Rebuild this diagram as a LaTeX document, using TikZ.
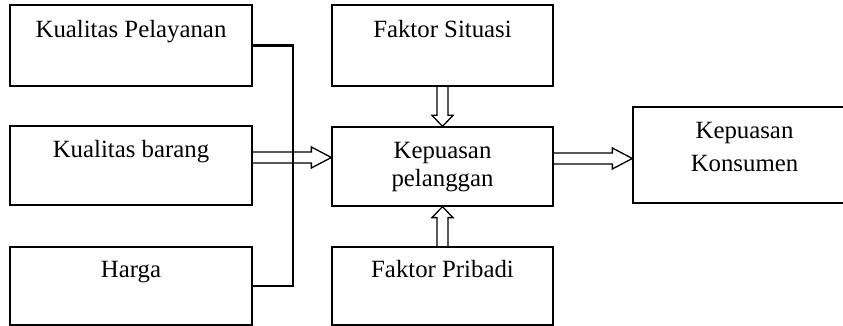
\documentclass[tikz,border=0pt]{standalone}
\usepackage{fontspec}
\setmainfont{Liberation Serif}
\usetikzlibrary{calc}

\tikzset{
  box/.style={draw,line width=1.3pt,inner sep=0pt,align=center,
    font=\fontsize{24.8}{28}\selectfont},
  bracket/.style={line width=2.4pt,line join=miter},
  hollow/.style={line width=1.3pt,line join=miter,to path={
    let \p1=($(\tikztotarget)!#1!(\tikztostart)$) in
    ($(\tikztostart)!5.5pt!90:(\tikztotarget)$) -- ($(\p1)!5.5pt!90:(\tikztotarget)$)
    -- ($(\p1)!10.5pt!90:(\tikztotarget)$) -- (\tikztotarget)
    -- ($(\p1)!10.5pt!-90:(\tikztotarget)$) -- ($(\p1)!5.5pt!-90:(\tikztotarget)$)
    -- ($(\tikztostart)!5.5pt!-90:(\tikztotarget)$)}},
  hollow/.default=20pt
}

\begin{document}
\begin{tikzpicture}[x=1pt,y=1pt]
    \useasboundingbox (0,0) rectangle (843,326);
    % left column
    \node[box,minimum width=242pt,minimum height=81pt] (kp) at (131,280.5) {\strut Kualitas Pelayanan\\\strut};
    \node[box,minimum width=242pt,minimum height=79pt] (kb) at (131,160.5) {\strut Kualitas barang\\\strut};
    \node[box,minimum width=242pt,minimum height=78pt] (harga) at (131,40) {\strut Harga\\\strut};
    % middle column
    \node[box,minimum width=221pt,minimum height=81pt] (fs) at (442.5,280.5) {\strut Faktor Situasi\\\strut};
    \node[box,minimum width=221pt,minimum height=79pt] (kpel) at (442.5,159.5) {\strut Kepuasan\\\strut pelanggan};
    \node[box,minimum width=221pt,minimum height=78pt] (fp) at (442.5,40) {\strut Faktor Pribadi\\\strut};
    % right
    \node[box,minimum width=223pt,minimum height=96pt] (kon) at (744.5,171) {Kepuasan\\[5pt]Konsumen\rule[-16pt]{0pt}{16pt}};
    % connectors
    \coordinate (join) at (293,160.5);
    \draw[bracket] (kp.east) -| (join) |- (harga.east);
    \draw[hollow] ([yshift=8pt]kb.east) to ([yshift=8pt]kb.east -| kpel.west);
    \draw[hollow=11pt] (fs.south) to (kpel.north);
    \draw[hollow=11pt] (fp.north) to (kpel.south);
    \draw[hollow] ([yshift=8pt]kpel.east) to ([yshift=8pt]kpel.east -| kon.west);
\end{tikzpicture}
\end{document}
